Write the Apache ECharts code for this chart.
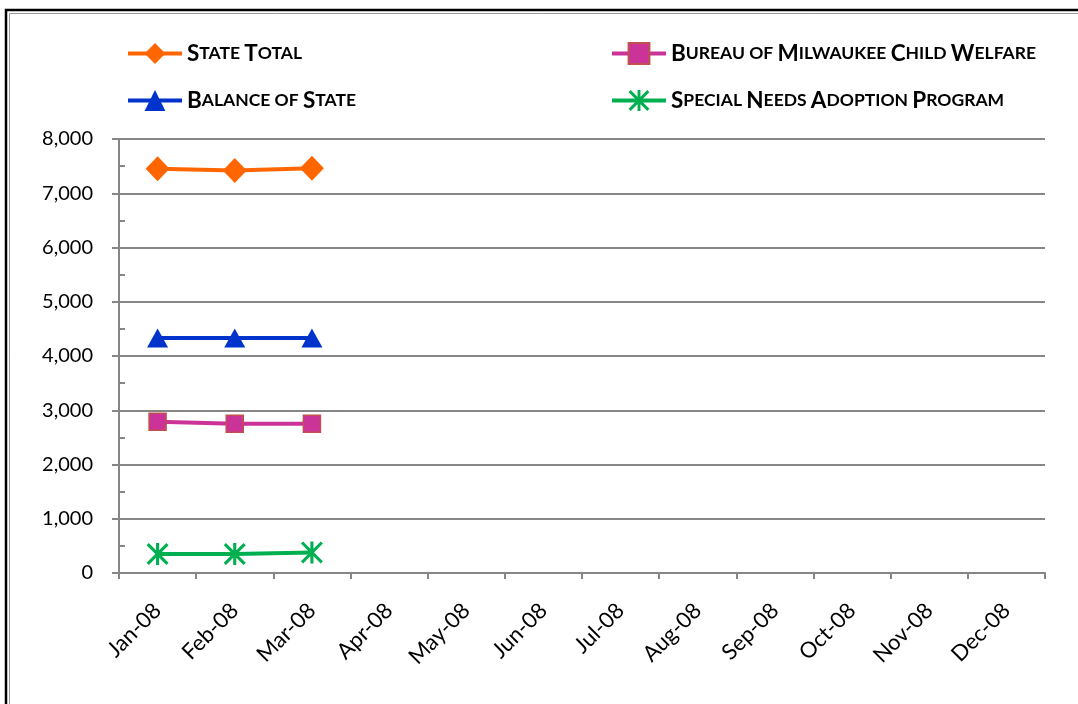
<!DOCTYPE html>
<html>
<head>
<meta charset="utf-8">
<script src="https://cdn.jsdelivr.net/npm/echarts@6/dist/echarts.min.js"></script>
<style>
html,body{margin:0;padding:0;background:#fff;overflow:hidden;}
#chart{width:1078px;height:704px;}
</style>
</head>
<body>
<div id="chart"></div>
<script>
var categories = ['Jan-08','Feb-08','Mar-08','Apr-08','May-08','Jun-08','Jul-08','Aug-08','Sep-08','Oct-08','Nov-08','Dec-08'];
var stateTotal = [7450, 7420, 7460, null, null, null, null, null, null, null, null, null];
var bureauMilwaukee = [2790, 2750, 2750, null, null, null, null, null, null, null, null, null];
var balanceOfState = [4330, 4330, 4330, null, null, null, null, null, null, null, null, null];
var specialNeeds = [350, 350, 380, null, null, null, null, null, null, null, null, null];
var yTicks = [0, 1000, 2000, 3000, 4000, 5000, 6000, 7000, 8000];

var starPath = 'path://M-10,-8L-8,-10L10,8L8,10ZM8,-10L10,-8L-8,10L-10,8ZM-1.4,-10L1.4,-10L1.4,10L-1.4,10Z';

function smallCaps(name) {
  return name.split(' ').map(function (w) {
    var f = w.charAt(0);
    if (f === f.toUpperCase() && f !== f.toLowerCase()) {
      return '{b|' + f + '}' + (w.length > 1 ? '{s|' + w.slice(1).toUpperCase() + '}' : '');
    }
    return '{s|' + w.toUpperCase() + '}';
  }).join('{s| }');
}

var legendText = {
  fontFamily: 'Lato',
  fontWeight: 'bold',
  color: '#000',
  rich: {
    b: {fontFamily: 'Lato', fontWeight: 'bold', fontSize: 22.5, color: '#000'},
    s: {fontFamily: 'Lato', fontWeight: 'bold', fontSize: 17.5, color: '#000'}
  }
};

var chart = echarts.init(document.getElementById('chart'));
chart.setOption({
  animation: false,
  backgroundColor: '#fff',
  graphic: [
    {type: 'polyline', shape: {points: [[6, 704], [6, 10], [1078, 10]]}, style: {fill: 'none', stroke: '#000', lineWidth: 2.5}},
    {type: 'polyline', shape: {points: [[9.5, 704], [9.5, 13.5], [1078, 13.5]]}, style: {fill: 'none', stroke: '#999', lineWidth: 1}}
  ],
  legend: [
    {
      data: ['State Total', 'Balance of State'],
      orient: 'vertical', left: 126, top: 42, padding: 0,
      itemWidth: 54, itemHeight: 26, itemGap: 24,
      lineStyle: {width: 4},
      formatter: smallCaps, textStyle: legendText
    },
    {
      data: ['Bureau of Milwaukee Child Welfare', 'Special Needs Adoption Program'],
      orient: 'vertical', left: 610, top: 42, padding: 0,
      itemWidth: 54, itemHeight: 26, itemGap: 24,
      lineStyle: {width: 4},
      formatter: smallCaps, textStyle: legendText
    }
  ],
  grid: {left: 119, right: 33, top: 139, bottom: 131},
  xAxis: {
    type: 'category',
    data: categories,
    boundaryGap: true,
    axisLine: {lineStyle: {color: '#868686', width: 2}},
    axisTick: {show: true, length: 6, alignWithLabel: false, lineStyle: {color: '#868686', width: 2}},
    axisLabel: {rotate: 45, margin: 34, fontFamily: 'Lato', fontSize: 22, color: '#000', interval: 0},
    splitLine: {show: false}
  },
  yAxis: [
    {
      type: 'value', min: 0, max: 8000, interval: 1000,
      axisLine: {show: true, lineStyle: {color: '#868686', width: 2}},
      axisTick: {show: true, length: 7, lineStyle: {color: '#868686', width: 2}},
      axisLabel: {
        margin: 26, fontFamily: 'Lato', fontSize: 20, color: '#000',
        formatter: function (v) { return yTicks.indexOf(v) >= 0 ? v.toLocaleString('en-US') : ''; }
      },
      splitLine: {show: true, lineStyle: {color: '#868686', width: 2}}
    },
    {
      type: 'value', min: 0, max: 8000, interval: 500, position: 'left', offset: 0,
      axisLine: {show: false},
      axisTick: {show: true, inside: true, length: 6, lineStyle: {color: '#868686', width: 2}},
      axisLabel: {show: false},
      splitLine: {show: false}
    }
  ],
  series: [
    {
      name: 'State Total', type: 'line', data: stateTotal, yAxisIndex: 0,
      symbol: 'diamond', symbolSize: [24, 25],
      lineStyle: {color: '#FF6600', width: 4},
      itemStyle: {color: '#FF6600'}
    },
    {
      name: 'Bureau of Milwaukee Child Welfare', type: 'line', data: bureauMilwaukee, yAxisIndex: 0,
      symbol: 'rect', symbolSize: 17,
      lineStyle: {color: '#CC3399', width: 4},
      itemStyle: {color: '#CC3399', borderColor: '#C0504D', borderWidth: 1.5}
    },
    {
      name: 'Balance of State', type: 'line', data: balanceOfState, yAxisIndex: 0,
      symbol: 'triangle', symbolSize: [21, 19],
      lineStyle: {color: '#0033CC', width: 4},
      itemStyle: {color: '#0033CC'}
    },
    {
      name: 'Special Needs Adoption Program', type: 'line', data: specialNeeds, yAxisIndex: 0,
      symbol: starPath, symbolSize: 22,
      lineStyle: {color: '#00B050', width: 4},
      itemStyle: {color: '#00B050'}
    }
  ]
});
</script>
</body>
</html>
